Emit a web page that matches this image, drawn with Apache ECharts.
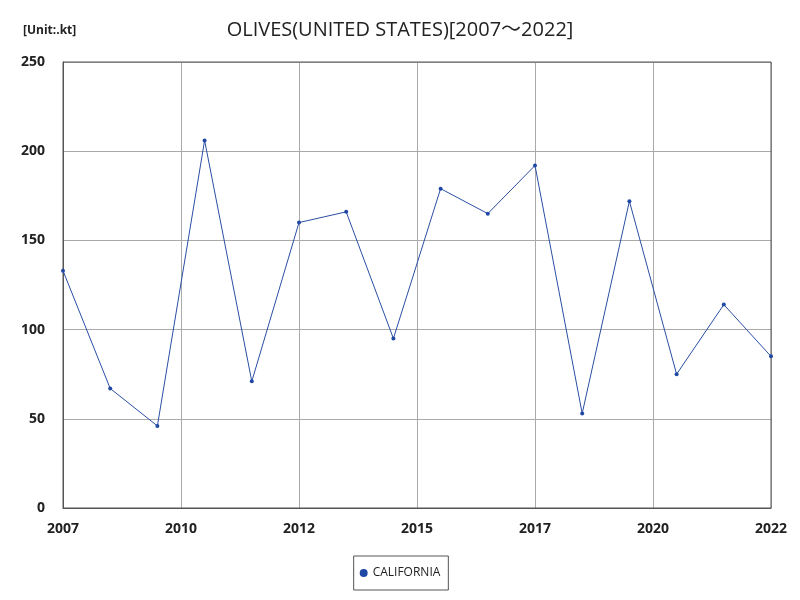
<!DOCTYPE html>
<html>
<head>
  <meta charset="UTF-8">
  <title>OLIVES(UNITED STATES)</title>
  <style>
    * { margin:0; padding:0; }
    body { background:#fff; }
    #chart { width:800px; height:600px; }
  </style>
  <script src="https://cdn.jsdelivr.net/npm/echarts@6/dist/echarts.min.js"></script>
</head>
<body>
  <div id="chart"></div>
  <script>
    // data
    const years = [2007,2008,2009,2010,2011,2012,2013,2014,2015,2016,2017,2018,2019,2020,2021,2022];
    const california = [133,67,46,206,71,160,166,95,179,165,192,53,172,75,114,85];
    const seriesName = 'CALIFORNIA';

    const chart = echarts.init(document.getElementById('chart'));
    const font = "'Open Sans', 'Noto Sans', sans-serif";
    chart.setOption({
      animation: false,
      title: [
        { text: 'OLIVES(UNITED STATES)[2007～2022]', left: 'center', top: 15,
          textStyle: { fontSize: 20, fontWeight: 'normal', color: '#222',
            fontFamily: "'Open Sans', 'Noto Sans CJK JP', sans-serif" } },
        { text: '[Unit:.kt]', left: 18, top: 20,
          textStyle: { fontSize: 12, fontWeight: 'bold', color: '#222', fontFamily: font } }
      ],
      grid: { left: 63, right: 29, top: 62, bottom: 92 },
      legend: {
        bottom: 10, left: 'center',
        data: [{ name: seriesName, icon: 'circle' }],
        itemWidth: 8, itemHeight: 8, itemGap: 4,
        borderColor: '#555', borderWidth: 1, borderRadius: 0,
        padding: [11, 8, 11, 6],
        textStyle: { fontSize: 12, color: '#222', fontFamily: font }
      },
      xAxis: {
        type: 'value', min: 0, max: years.length - 1, interval: 2.5,
        axisLine: { show: true, lineStyle: { color: '#555' } },
        axisTick: { show: false },
        splitLine: { show: true, lineStyle: { color: '#aaa', width: 1 } },
        axisLabel: { formatter: v => Math.round(years[0] + v), fontSize: 14, fontWeight: 'bold',
          color: '#222', margin: 14, fontFamily: font }
      },
      yAxis: {
        type: 'value', min: 0, max: 250, interval: 50,
        axisLine: { show: true, lineStyle: { color: '#555' } },
        axisTick: { show: false },
        splitLine: { show: true, lineStyle: { color: '#aaa', width: 1 } },
        axisLabel: { fontSize: 14, fontWeight: 'bold', color: '#222', margin: 18, fontFamily: font }
      },
      series: [{
        name: seriesName, type: 'line',
        data: years.map((y, i) => [y - years[0], california[i]]),
        symbol: 'circle', symbolSize: 4,
        lineStyle: { color: '#2a4ea3', width: 1 },
        itemStyle: { color: '#1f48a5' }
      }]
    });
    // plot frame on top/right
    chart.setOption({
      graphic: [{
        type: 'rect', shape: { x: 63, y: 62, width: 708, height: 446 },
        style: { fill: null, stroke: '#555', lineWidth: 1 }, silent: true
      }]
    });
  </script>
</body>
</html>
